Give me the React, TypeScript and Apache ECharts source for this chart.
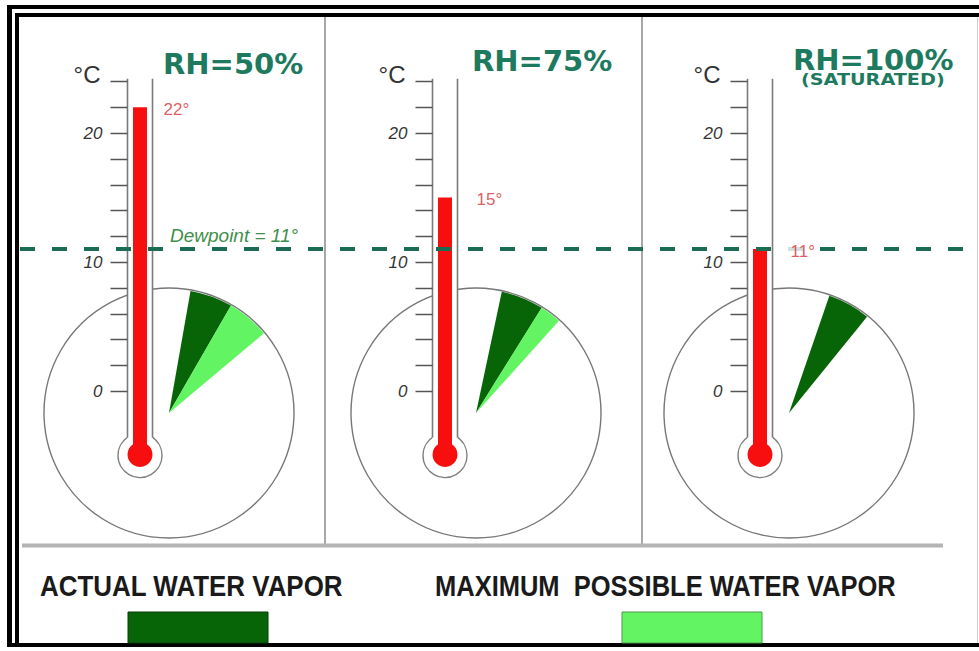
import React, { useEffect, useRef } from "react";
import * as echarts from "echarts";

// ---------- data ----------
const panelTitles = ["RH=50%", "RH=75%", "RH=100%"];
const panelSubtitle = "(SATURATED)";
const airTemps = [22, 15, 11];
const dewpoint = 11;
const actualVaporArc = [20, 20, 20]; // degrees of arc
const maxVaporArc = [40, 30, 20]; // degrees of arc
const tempTicks = [0, 2, 4, 6, 8, 10, 12, 14, 16, 18, 20, 22, 24];
const tempTickLabels = [0, 10, 20];
const unitLabel = "°C";
const legendLabels = ["ACTUAL WATER VAPOR", "MAXIMUM  POSSIBLE WATER VAPOR"];

// ---------- layout / style ----------
const Y_MIN = -5;
const Y_MAX = 24.2;
const PLOT_TOP = 78.8;
const PLOT_H = 376.7;
const tubeLeft = [127.5, 432.5, 747.5];
const TUBE_W = 25;
const dialCenter = [
  [169, 413],
  [476, 413],
  [789, 413],
];
const DIAL_R = 125;
const sectorStart = [80, 78, 71];
const labelDistance = [20, 28, 27];
const titleX = [163, 472, 793];
const titleY = [64, 61, 60];
const RED = "#f70f0f";
const DARK = "#076407";
const LIGHT = "#63f463";
const TITLE_GREEN = "#1d7a5e";
const BULB_R = 22;
const BULB_RED_R = 12.5;
const RED_W = 14;
const TICK_LEN = 17;

function buildOption() {
  const grids: any[] = [];
  const xAxes: any[] = [];
  const yAxes: any[] = [];
  const series: any[] = [];

  for (let i = 0; i < 3; i++) {
    grids.push({
      left: tubeLeft[i],
      top: PLOT_TOP,
      width: TUBE_W,
      height: PLOT_H,
      containLabel: false,
      outerBoundsMode: "none",
    });
    xAxes.push({ type: "value", gridIndex: i, min: -1, max: 1, show: false });
    yAxes.push({ type: "value", gridIndex: i, min: Y_MIN, max: Y_MAX, show: false });
  }
  grids.push({ left: 20, right: 14, top: PLOT_TOP, height: PLOT_H, containLabel: false, outerBoundsMode: "none" });
  xAxes.push({ type: "value", gridIndex: 3, min: 0, max: 1, show: false });
  yAxes.push({ type: "value", gridIndex: 3, min: Y_MIN, max: Y_MAX, show: false });

  for (let i = 0; i < 3; i++) {
    // dial circle
    series.push({
      type: "pie",
      center: dialCenter[i],
      radius: DIAL_R,
      silent: true,
      z: 1,
      label: { show: false },
      labelLine: { show: false },
      emphasis: { disabled: true },
      data: [
        {
          value: 1,
          name: "dial",
          itemStyle: { color: "#fff", borderColor: "#777", borderWidth: 1.4 },
        },
      ],
    });
    // vapor sectors
    series.push({
      type: "pie",
      center: dialCenter[i],
      radius: DIAL_R - 1,
      startAngle: sectorStart[i],
      clockwise: true,
      silent: true,
      z: 2,
      label: { show: false },
      labelLine: { show: false },
      emphasis: { disabled: true },
      itemStyle: { borderWidth: 0 },
      data: [
        { name: "Actual water vapor", value: actualVaporArc[i], itemStyle: { color: DARK } },
        {
          name: "Maximum possible water vapor",
          value: maxVaporArc[i] - actualVaporArc[i],
          itemStyle: { color: LIGHT },
        },
        { name: "rest", value: 360 - maxVaporArc[i], itemStyle: { color: "transparent" } },
      ],
    });
    // thermometer with its scale
    series.push({
      type: "custom",
      xAxisIndex: i,
      yAxisIndex: i,
      z: 3,
      silent: true,
      clip: false,
      data: [[0, airTemps[i]]],
      renderItem: (params: any, api: any) => {
        const temp = api.value(1);
        const top = api.coord([0, Y_MAX]);
        const t = api.coord([0, temp]);
        const b = api.coord([0, Y_MIN]);
        const xl = api.coord([-1, temp])[0];
        const xr = api.coord([1, temp])[0];
        const cx = t[0];
        const hw = (xr - xl) / 2;
        const wallEnd = b[1] - Math.sqrt(BULB_R * BULB_R - hw * hw);
        const children: any[] = [
          {
            type: "circle",
            shape: { cx, cy: b[1], r: BULB_R },
            style: { fill: "#fff", stroke: "#808080", lineWidth: 1.4 },
          },
          {
            type: "rect",
            shape: { x: xl, y: top[1], width: xr - xl, height: b[1] - top[1] },
            style: { fill: "#fff" },
          },
          {
            type: "line",
            shape: { x1: xl, y1: top[1], x2: xl, y2: wallEnd },
            style: { stroke: "#7a7a7a", lineWidth: 1.6 },
          },
          {
            type: "line",
            shape: { x1: xr, y1: top[1], x2: xr, y2: wallEnd },
            style: { stroke: "#7a7a7a", lineWidth: 1.6 },
          },
          {
            type: "rect",
            shape: { x: cx - RED_W / 2, y: t[1], width: RED_W, height: b[1] - t[1] },
            style: { fill: RED },
          },
          {
            type: "circle",
            shape: { cx, cy: b[1] - 1, r: BULB_RED_R },
            style: { fill: RED },
          },
        ];
        tempTicks.forEach((v) => {
          const y = Math.round(api.coord([0, v])[1]) + 0.5;
          children.push({
            type: "line",
            shape: { x1: xl - TICK_LEN, y1: y, x2: xl, y2: y },
            style: { stroke: "#555", lineWidth: 1.5 },
          });
        });
        tempTickLabels.forEach((v) => {
          const y = api.coord([0, v])[1];
          children.push({
            type: "text",
            x: xl - TICK_LEN - 8,
            y: y + 1,
            style: {
              text: String(v),
              fill: "#333",
              fontSize: 17,
              fontStyle: "italic",
              fontFamily: "Liberation Sans",
              align: "right",
              verticalAlign: "middle",
              textAlign: "right",
              textVerticalAlign: "middle",
            },
          });
        });
        const yTop = api.coord([0, tempTicks[tempTicks.length - 1]])[1];
        children.push({
          type: "text",
          x: xl - 27,
          y: yTop - 7,
          style: {
            text: unitLabel,
            fill: "#333",
            fontSize: 24,
            fontFamily: "Liberation Sans",
            align: "right",
            verticalAlign: "middle",
            textAlign: "right",
            textVerticalAlign: "middle",
          },
        });
        return { type: "group", children };
      },
    });
    // temperature label
    series.push({
      type: "scatter",
      xAxisIndex: i,
      yAxisIndex: i,
      z: 7,
      silent: true,
      symbolSize: 1,
      itemStyle: { color: "transparent" },
      data: [[0, airTemps[i]]],
      label: {
        show: true,
        position: "right",
        distance: labelDistance[i],
        formatter: (p: any) => `${p.value[1]}°`,
        color: "#d6323a",
        fontSize: 17,
        fontFamily: "Liberation Sans",
        backgroundColor: "#fff",
        padding: [2, 3],
        offset: [0, 2],
      },
    });
  }

  series.push({
    type: "line",
    xAxisIndex: 3,
    yAxisIndex: 3,
    z: 5,
    silent: true,
    symbol: "none",
    lineStyle: { opacity: 0 },
    data: [
      [0, dewpoint],
      [1, dewpoint],
    ],
    markLine: {
      silent: true,
      symbol: ["none", "none"],
      lineStyle: { type: [15, 17], width: 4, color: "#1c6b55" },
      label: {
        show: true,
        position: "insideStartTop",
        formatter: `Dewpoint = ${dewpoint}°`,
        color: "#3f8f4c",
        fontStyle: "italic",
        fontSize: 19,
        fontFamily: "Liberation Sans",
        padding: [0, 0, 0, 146],
        distance: 4,
      },
      data: [{ yAxis: dewpoint }],
    },
  });

  const graphic: any[] = [
    // frame
    { type: "rect", shape: { x: 7, y: 5, width: 972, height: 4 }, style: { fill: "#000" } },
    { type: "rect", shape: { x: 7, y: 5, width: 5, height: 642 }, style: { fill: "#000" } },
    { type: "rect", shape: { x: 15, y: 13, width: 964, height: 4 }, style: { fill: "#000" } },
    { type: "rect", shape: { x: 15, y: 13, width: 4, height: 634 }, style: { fill: "#000" } },
    { type: "rect", shape: { x: 7, y: 643, width: 972, height: 4 }, style: { fill: "#000" } },
    { type: "line", shape: { x1: 977.5, y1: 17, x2: 977.5, y2: 643 }, style: { stroke: "#ccc", lineWidth: 1 } },
    // dividers
    { type: "line", shape: { x1: 325, y1: 17, x2: 325, y2: 545 }, style: { stroke: "#8a8a8a", lineWidth: 1.5 } },
    { type: "line", shape: { x1: 642, y1: 17, x2: 642, y2: 545 }, style: { stroke: "#8a8a8a", lineWidth: 1.5 } },
    { type: "rect", shape: { x: 22, y: 543.5, width: 921, height: 4 }, style: { fill: "#b4b4b4" } },
    // legend
    {
      type: "text",
      x: 40,
      y: 586,
      scaleX: 0.865,
      style: {
        text: legendLabels[0],
        fill: "#1a1a1a",
        fontSize: 30,
        fontWeight: "bold",
        fontFamily: "Liberation Sans",
        align: "left",
        verticalAlign: "middle",
      },
    },
    {
      type: "text",
      x: 435,
      y: 586,
      scaleX: 0.85,
      style: {
        text: legendLabels[1],
        fill: "#1a1a1a",
        fontSize: 30,
        fontWeight: "bold",
        fontFamily: "Liberation Sans",
        align: "left",
        verticalAlign: "middle",
      },
    },
    {
      type: "rect",
      shape: { x: 128, y: 612, width: 140, height: 31 },
      style: { fill: DARK, stroke: "#0a3a0a", lineWidth: 1 },
    },
    {
      type: "rect",
      shape: { x: 622, y: 612, width: 140, height: 31 },
      style: { fill: LIGHT, stroke: "#4a9a4a", lineWidth: 1 },
    },
    // subtitle
    {
      type: "text",
      x: 801,
      y: 80,
      scaleX: 1.28,
      style: {
        text: panelSubtitle,
        fill: TITLE_GREEN,
        fontSize: 15,
        fontWeight: "bold",
        fontFamily: "DejaVu Sans",
        align: "left",
        verticalAlign: "middle",
      },
    },
  ];
  for (let i = 0; i < 3; i++) {
    graphic.push({
      type: "text",
      x: titleX[i],
      y: titleY[i],
      style: {
        text: panelTitles[i],
        fill: TITLE_GREEN,
        fontSize: 29,
        fontWeight: "bold",
        fontFamily: "DejaVu Sans",
        align: "left",
        verticalAlign: "middle",
      },
    });
  }

  return {
    animation: false,
    backgroundColor: "#fff",
    grid: grids,
    xAxis: xAxes,
    yAxis: yAxes,
    series,
    graphic,
  };
}

export default function App() {
  const ref = useRef<HTMLDivElement>(null);
  useEffect(() => {
    document.body.style.margin = "0";
    const chart = echarts.init(ref.current as HTMLDivElement, null, { renderer: "svg" });
    chart.setOption(buildOption() as any);
    return () => chart.dispose();
  }, []);
  return (
    <div
      ref={ref}
      style={{ position: "fixed", left: 0, top: 0, width: 979, height: 651 }}
    />
  );
}
